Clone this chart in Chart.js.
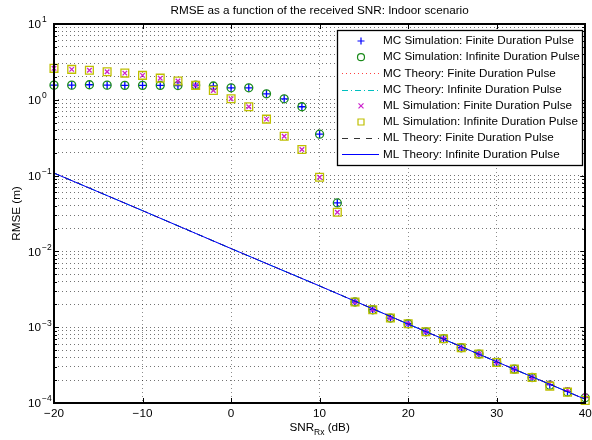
<!DOCTYPE html>
<html>
<head>
<meta charset="utf-8">
<script src="https://cdn.jsdelivr.net/npm/chart.js@4/dist/chart.umd.min.js"></script>
<style>
  html, body { margin: 0; padding: 0; background: #fff; }
  #chart { display: block; }
</style>
</head>
<body>
<canvas id="chart" width="592" height="440"></canvas>
<script>
// RMSE vs received SNR, indoor scenario (MATLAB-style semilog plot)

const FONT = '"Liberation Sans", Arial, Helvetica, sans-serif';
const FS = '11.7px ';
const FS_SMALL = '8.5px ';

// SNR grid of the simulated points (dB)
const snr = [-20, -18, -16, -14, -12, -10, -8, -6, -4, -2, 0, 2, 4, 6, 8, 10,
             12, 14, 16, 18, 20, 22, 24, 26, 28, 30, 32, 34, 36, 38, 40];

// MC estimator, simulated
const mcSimFinite = [1.56, 1.56, 1.58, 1.56, 1.55, 1.55, 1.55, 1.54, 1.56, 1.52, 1.44,
                     1.44, 1.20, 1.03, 0.81, 0.352, 0.0436, 2.15e-3, 1.70e-3, 1.32e-3,
                     1.11e-3, 8.7e-4, 7.05e-4, 5.36e-4, 4.42e-4, 3.43e-4, 2.80e-4,
                     2.17e-4, 1.75e-4, 1.42e-4, 1.19e-4];
const mcSimInfinite = [1.56, 1.56, 1.58, 1.56, 1.55, 1.55, 1.55, 1.54, 1.56, 1.52, 1.44,
                       1.44, 1.20, 1.03, 0.81, 0.352, 0.0436, 2.15e-3, 1.70e-3, 1.32e-3,
                       1.11e-3, 8.7e-4, 7.05e-4, 5.36e-4, 4.42e-4, 3.43e-4, 2.80e-4,
                       2.17e-4, 1.72e-4, 1.40e-4, 1.17e-4];

// ML estimator, simulated
const mlSimFinite = [2.60, 2.52, 2.45, 2.34, 2.25, 2.10, 1.93, 1.77, 1.55, 1.33, 1.03,
                     0.81, 0.556, 0.331, 0.221, 0.0953, 0.0329, 2.15e-3, 1.70e-3, 1.32e-3,
                     1.11e-3, 8.7e-4, 7.05e-4, 5.36e-4, 4.42e-4, 3.43e-4, 2.80e-4,
                     2.17e-4, 1.83e-4, 1.51e-4, 1.24e-4];
const mlSimInfinite = [2.60, 2.52, 2.45, 2.34, 2.25, 2.10, 1.93, 1.77, 1.55, 1.33, 1.03,
                       0.81, 0.556, 0.331, 0.221, 0.0953, 0.0329, 2.15e-3, 1.70e-3, 1.32e-3,
                       1.11e-3, 8.7e-4, 7.05e-4, 5.36e-4, 4.42e-4, 3.43e-4, 2.80e-4,
                       2.17e-4, 1.67e-4, 1.39e-4, 1.08e-4];

// Theory curves (all four coincide on the plot)
const theorySnr = [-20, -10, 0, 10, 20, 30, 40];
const mcTheoryFinite = [0.108, 0.0345, 0.0109, 3.5e-3, 1.1e-3, 3.5e-4, 1.12e-4];
const mcTheoryInfinite = [0.108, 0.0345, 0.0109, 3.5e-3, 1.1e-3, 3.5e-4, 1.12e-4];
const mlTheoryFinite = [0.108, 0.0345, 0.0109, 3.5e-3, 1.1e-3, 3.5e-4, 1.12e-4];
const mlTheoryInfinite = [0.108, 0.0345, 0.0109, 3.5e-3, 1.1e-3, 3.5e-4, 1.12e-4];

// Axis ticks
const xTicks = [-20, -10, 0, 10, 20, 30, 40];
const yDecades = [-4, -3, -2, -1, 0, 1];

const legendLabels = [
    'MC Simulation: Finite Duration Pulse',
    'MC Simulation: Infinite Duration Pulse',
    'MC Theory: Finite Duration Pulse',
    'MC Theory: Infinite Duration Pulse',
    'ML Simulation: Finite Duration Pulse',
    'ML Simulation: Infinite Duration Pulse',
    'ML Theory: Finite Duration Pulse',
    'ML Theory: Infinite Duration Pulse'
];

function pts(xs, ys) {
    return xs.map((x, i) => ({ x: x, y: ys[i] }));
}

function markerSet(label, values, style, color, radius) {
    return {
        label: label,
        data: pts(snr, values),
        showLine: false,
        pointStyle: style,
        pointRadius: radius,
        pointHoverRadius: radius,
        pointBorderColor: color,
        pointBackgroundColor: 'rgba(0,0,0,0)',
        pointBorderWidth: 1.3,
        borderColor: color,
        clip: false
    };
}

function lineSet(label, values, color, dash) {
    return {
        label: label,
        data: pts(theorySnr, values),
        borderColor: color,
        borderWidth: 1,
        borderDash: dash,
        pointRadius: 0,
        fill: false,
        tension: 0
    };
}

const datasets = [
    markerSet(legendLabels[0], mcSimFinite, 'cross', '#0000ff', 4),
    markerSet(legendLabels[1], mcSimInfinite, 'circle', '#1a8a1a', 4),
    lineSet(legendLabels[2], mcTheoryFinite, '#ff4040', [1, 3]),
    lineSet(legendLabels[3], mcTheoryInfinite, '#00bfbf', [6, 3, 1, 3]),
    markerSet(legendLabels[4], mlSimFinite, 'crossRot', '#cc22cc', 3.2),
    markerSet(legendLabels[5], mlSimInfinite, 'rect', '#bfbf00', 5.5),
    lineSet(legendLabels[6], mlTheoryFinite, '#333333', [6, 6]),
    lineSet(legendLabels[7], mlTheoryInfinite, '#0000ff', [])
];
// MATLAB draws later series on top; Chart.js draws lower "order" last
datasets.forEach((ds, i) => { ds.order = datasets.length - i; });

// Small marker painter for the legend
function drawMarker(ctx, style, color, x, y) {
    ctx.save();
    ctx.strokeStyle = color;
    ctx.lineWidth = 1.2;
    ctx.beginPath();
    if (style === 'cross') {
        ctx.moveTo(x - 3.5, y); ctx.lineTo(x + 3.5, y);
        ctx.moveTo(x, y - 3.5); ctx.lineTo(x, y + 3.5);
    } else if (style === 'circle') {
        ctx.arc(x, y, 3.5, 0, Math.PI * 2);
    } else if (style === 'crossRot') {
        ctx.moveTo(x - 2.5, y - 2.5); ctx.lineTo(x + 2.5, y + 2.5);
        ctx.moveTo(x + 2.5, y - 2.5); ctx.lineTo(x - 2.5, y + 2.5);
    } else if (style === 'rect') {
        ctx.rect(x - 3, y - 3, 6, 6);
    }
    ctx.stroke();
    ctx.restore();
}

// Draws the MATLAB axes box, tick marks, labels, title and legend
const matlabDecor = {
    id: 'matlabDecor',
    afterDraw(chart) {
        const ctx = chart.ctx;
        const a = chart.chartArea;
        const xs = chart.scales.x;
        const ys = chart.scales.y;
        ctx.save();

        // tick marks (inward, all four sides)
        ctx.strokeStyle = '#000';
        ctx.lineWidth = 1;
        ctx.beginPath();
        xTicks.forEach(v => {
            const px = Math.round(xs.getPixelForValue(v)) + 0.5;
            ctx.moveTo(px, a.bottom); ctx.lineTo(px, a.bottom - 5);
            ctx.moveTo(px, a.top); ctx.lineTo(px, a.top + 5);
        });
        ys.ticks.forEach(t => {
            const major = Math.abs(Math.log10(t.value) - Math.round(Math.log10(t.value))) < 1e-6;
            const len = major ? 5 : 3;
            const py = Math.round(ys.getPixelForValue(t.value)) + 0.5;
            ctx.moveTo(a.left, py); ctx.lineTo(a.left + len, py);
            ctx.moveTo(a.right, py); ctx.lineTo(a.right - len, py);
        });
        ctx.stroke();

        // axes box
        ctx.lineWidth = 2;
        ctx.strokeRect(Math.round(a.left), Math.round(a.top),
                       Math.round(a.right) - Math.round(a.left),
                       Math.round(a.bottom) - Math.round(a.top));

        ctx.fillStyle = '#000';

        // x tick labels
        ctx.font = FS + FONT;
        ctx.textAlign = 'center';
        ctx.textBaseline = 'middle';
        xTicks.forEach(v => {
            const txt = String(v).replace('-', '\u2212');
            ctx.fillText(txt, xs.getPixelForValue(v), a.bottom + 11);
        });

        // y tick labels: 10 with superscript exponent
        yDecades.forEach(e => {
            const py = ys.getPixelForValue(Math.pow(10, e));
            ctx.font = FS + FONT;
            ctx.textAlign = 'left';
            ctx.fillText('10', 28, py + 1);
            const w = ctx.measureText('10').width;
            ctx.font = FS_SMALL + FONT;
            ctx.fillText(String(e).replace('-', '\u2212'), 28 + w + 1, py - 4);
        });

        // title
        ctx.font = FS + FONT;
        ctx.textAlign = 'center';
        ctx.fillText('RMSE as a function of the received SNR: Indoor scenario',
                     (a.left + a.right) / 2, 11);

        // x axis label with subscript
        const p1 = 'SNR', p2 = 'Rx', p3 = ' (dB)';
        ctx.font = FS + FONT;
        const w1 = ctx.measureText(p1).width;
        const w3 = ctx.measureText(p3).width;
        ctx.font = FS_SMALL + FONT;
        const w2 = ctx.measureText(p2).width;
        const lx = (a.left + a.right) / 2 - (w1 + w2 + w3) / 2;
        ctx.textAlign = 'left';
        ctx.font = FS + FONT;
        ctx.fillText(p1, lx, 428);
        ctx.font = FS_SMALL + FONT;
        ctx.fillText(p2, lx + w1, 433);
        ctx.font = FS + FONT;
        ctx.fillText(p3, lx + w1 + w2, 428);

        // y axis label
        ctx.save();
        ctx.translate(17, (a.top + a.bottom) / 2);
        ctx.rotate(-Math.PI / 2);
        ctx.textAlign = 'center';
        ctx.fillText('RMSE (m)', 0, 0);
        ctx.restore();

        // legend box
        const lb = { left: 337, top: 30, right: 582, bottom: 165 };
        ctx.fillStyle = '#fff';
        ctx.fillRect(lb.left, lb.top, lb.right - lb.left, lb.bottom - lb.top);
        ctx.strokeStyle = '#000';
        ctx.lineWidth = 1.3;
        ctx.strokeRect(lb.left + 0.5, lb.top + 0.5, lb.right - lb.left, lb.bottom - lb.top);

        chart.data.datasets.forEach((ds, i) => {
            const cy = 41 + i * 16.2;
            if (ds.showLine === false) {
                drawMarker(ctx, ds.pointStyle, ds.pointBorderColor, 361, cy);
            } else {
                ctx.save();
                ctx.strokeStyle = ds.borderColor;
                ctx.lineWidth = 1;
                ctx.setLineDash(ds.borderDash || []);
                ctx.beginPath();
                ctx.moveTo(342, Math.round(cy) + 0.5);
                ctx.lineTo(379, Math.round(cy) + 0.5);
                ctx.stroke();
                ctx.restore();
            }
            ctx.fillStyle = '#000';
            ctx.font = FS + FONT;
            ctx.textAlign = 'left';
            ctx.textBaseline = 'middle';
            ctx.fillText(ds.label, 383, cy);
        });

        ctx.restore();
    }
};

new Chart(document.getElementById('chart'), {
    type: 'line',
    data: { datasets: datasets },
    options: {
        responsive: false,
        animation: false,
        events: [],
        layout: { padding: { left: 54, top: 24, right: 2, bottom: 37 } },
        plugins: {
            legend: { display: false },
            title: { display: false },
            tooltip: { enabled: false }
        },
        scales: {
            x: {
                type: 'linear',
                min: -20,
                max: 40,
                afterBuildTicks: scale => {
                    scale.ticks = xTicks.map(v => ({ value: v }));
                },
                ticks: { display: false },
                grid: { color: 'rgba(0,0,0,0.45)', lineWidth: 1, drawTicks: false },
                border: { display: false, dash: [1, 3] }
            },
            y: {
                type: 'logarithmic',
                min: 1e-4,
                max: 10,
                afterBuildTicks: scale => {
                    const t = [];
                    yDecades.forEach(e => {
                        const top = e === 1 ? 1 : 9;
                        for (let k = 1; k <= top; k++) t.push({ value: k * Math.pow(10, e) });
                    });
                    scale.ticks = t;
                },
                ticks: { display: false },
                grid: { color: 'rgba(0,0,0,0.55)', lineWidth: 1, drawTicks: false },
                border: { display: false, dash: [1, 3] }
            }
        }
    },
    plugins: [matlabDecor]
});
</script>
</body>
</html>
